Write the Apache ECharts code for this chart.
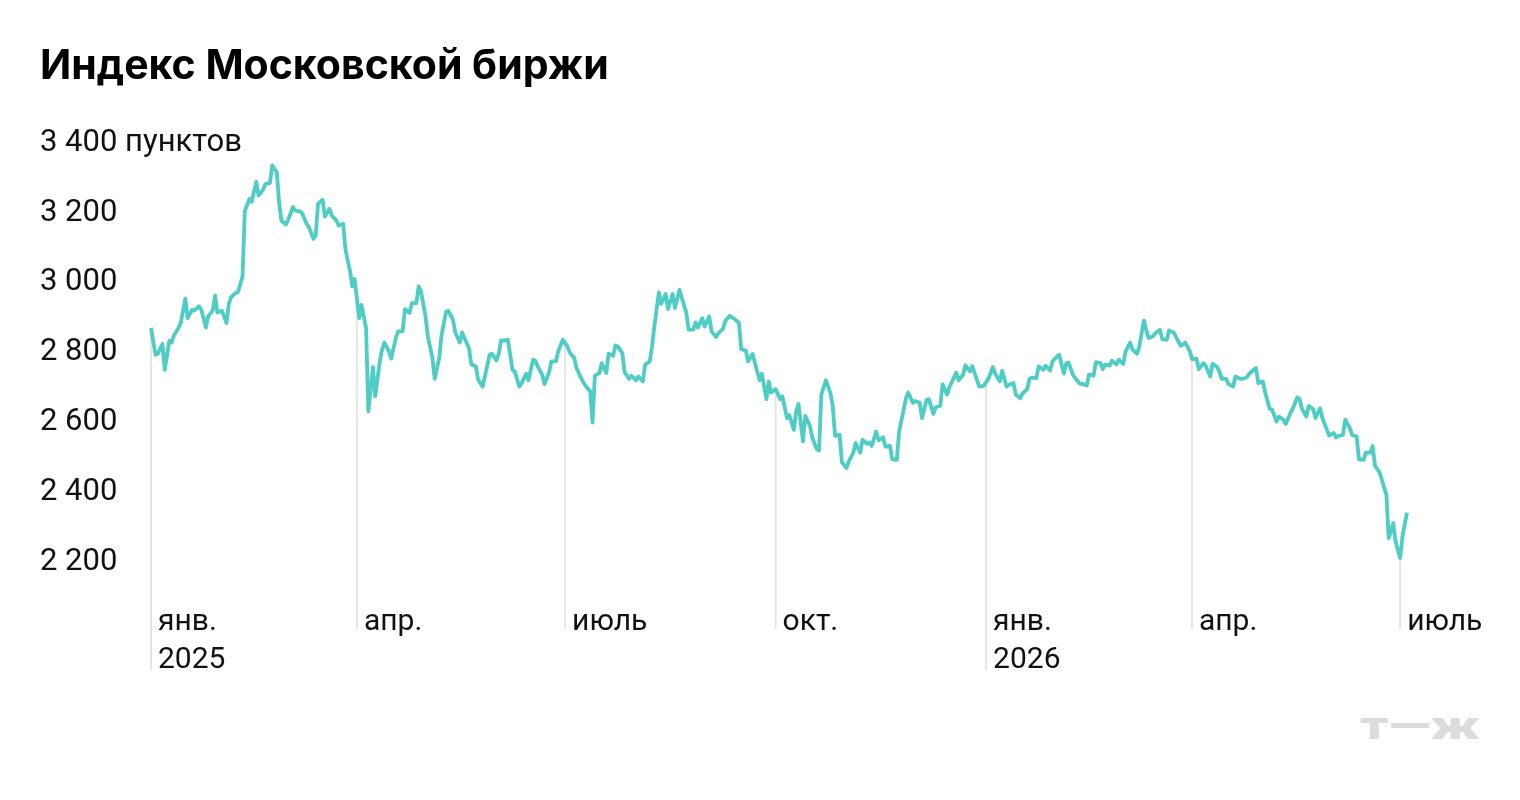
<!DOCTYPE html>
<html>
<head>
<meta charset="utf-8">
<title>Индекс Московской биржи</title>
<script src="https://cdn.jsdelivr.net/npm/echarts@6/dist/echarts.min.js"></script>
<style>
  html, body { margin: 0; padding: 0; background: #fff; }
  #chart { width: 1520px; height: 800px; }
</style>
</head>
<body>
<div id="chart"></div>
<script>
// торговые дни (примерно), значения индекса в пунктах
const dates = [
  '2025-01-01','2025-01-03','2025-01-04','2025-01-06','2025-01-07','2025-01-09','2025-01-10','2025-01-11','2025-01-13','2025-01-14',
  '2025-01-16','2025-01-17','2025-01-19','2025-01-20','2025-01-22','2025-01-23','2025-01-25','2025-01-26','2025-01-28','2025-01-29',
  '2025-01-30','2025-02-01','2025-02-03','2025-02-04','2025-02-05','2025-02-07','2025-02-08','2025-02-10','2025-02-11','2025-02-13',
  '2025-02-14','2025-02-16','2025-02-17','2025-02-19','2025-02-20','2025-02-22','2025-02-23','2025-02-25','2025-02-26','2025-02-27',
  '2025-03-01','2025-03-02','2025-03-04','2025-03-05','2025-03-07','2025-03-08','2025-03-10','2025-03-11','2025-03-13','2025-03-14',
  '2025-03-15','2025-03-17','2025-03-18','2025-03-20','2025-03-21','2025-03-23','2025-03-24','2025-03-26','2025-03-27','2025-03-29',
  '2025-03-30','2025-03-31','2025-04-02','2025-04-03','2025-04-05','2025-04-06','2025-04-08','2025-04-09','2025-04-11','2025-04-12',
  '2025-04-13','2025-04-15','2025-04-16','2025-04-18','2025-04-19','2025-04-21','2025-04-22','2025-04-24','2025-04-25','2025-04-27',
  '2025-04-28','2025-04-29','2025-05-01','2025-05-02','2025-05-04','2025-05-05','2025-05-07','2025-05-08','2025-05-10','2025-05-11',
  '2025-05-13','2025-05-14','2025-05-16','2025-05-17','2025-05-18','2025-05-20','2025-05-21','2025-05-23','2025-05-24','2025-05-26',
  '2025-05-27','2025-05-29','2025-05-30','2025-06-01','2025-06-02','2025-06-03','2025-06-05','2025-06-06','2025-06-08','2025-06-09',
  '2025-06-11','2025-06-12','2025-06-14','2025-06-15','2025-06-17','2025-06-18','2025-06-19','2025-06-21','2025-06-22','2025-06-24',
  '2025-06-25','2025-06-27','2025-06-28','2025-06-30','2025-07-02','2025-07-03','2025-07-05','2025-07-06','2025-07-08','2025-07-09',
  '2025-07-10','2025-07-12','2025-07-13','2025-07-14','2025-07-16','2025-07-17','2025-07-19','2025-07-20','2025-07-22','2025-07-23',
  '2025-07-24','2025-07-26','2025-07-27','2025-07-29','2025-07-30','2025-08-01','2025-08-02','2025-08-04','2025-08-05','2025-08-07',
  '2025-08-08','2025-08-09','2025-08-11','2025-08-12','2025-08-14','2025-08-15','2025-08-17','2025-08-18','2025-08-20','2025-08-21',
  '2025-08-23','2025-08-24','2025-08-26','2025-08-27','2025-08-28','2025-08-30','2025-08-31','2025-09-02','2025-09-03','2025-09-05',
  '2025-09-06','2025-09-08','2025-09-09','2025-09-11','2025-09-12','2025-09-13','2025-09-15','2025-09-16','2025-09-18','2025-09-19',
  '2025-09-21','2025-09-22','2025-09-24','2025-09-25','2025-09-27','2025-09-28','2025-09-29','2025-10-01','2025-10-03','2025-10-04',
  '2025-10-06','2025-10-07','2025-10-09','2025-10-10','2025-10-11','2025-10-13','2025-10-14','2025-10-16','2025-10-17','2025-10-19',
  '2025-10-20','2025-10-21','2025-10-23','2025-10-25','2025-10-26','2025-10-27','2025-10-29','2025-10-30','2025-11-01','2025-11-02',
  '2025-11-04','2025-11-05','2025-11-07','2025-11-08','2025-11-10','2025-11-11','2025-11-12','2025-11-14','2025-11-15','2025-11-17',
  '2025-11-18','2025-11-20','2025-11-21','2025-11-23','2025-11-24','2025-11-26','2025-11-27','2025-11-28','2025-11-30','2025-12-01',
  '2025-12-03','2025-12-04','2025-12-06','2025-12-07','2025-12-09','2025-12-10','2025-12-12','2025-12-13','2025-12-15','2025-12-16',
  '2025-12-17','2025-12-19','2025-12-20','2025-12-22','2025-12-23','2025-12-25','2025-12-26','2025-12-28','2025-12-29','2025-12-31',
  '2026-01-02','2026-01-04','2026-01-05','2026-01-07','2026-01-08','2026-01-10','2026-01-11','2026-01-13','2026-01-14','2026-01-16',
  '2026-01-17','2026-01-19','2026-01-20','2026-01-21','2026-01-23','2026-01-24','2026-01-26','2026-01-27','2026-01-29','2026-01-30',
  '2026-02-01','2026-02-02','2026-02-04','2026-02-05','2026-02-06','2026-02-08','2026-02-09','2026-02-11','2026-02-12','2026-02-14',
  '2026-02-15','2026-02-17','2026-02-18','2026-02-20','2026-02-21','2026-02-22','2026-02-24','2026-02-25','2026-02-27','2026-02-28',
  '2026-03-02','2026-03-03','2026-03-05','2026-03-06','2026-03-08','2026-03-09','2026-03-11','2026-03-12','2026-03-13','2026-03-15',
  '2026-03-16','2026-03-18','2026-03-19','2026-03-21','2026-03-22','2026-03-24','2026-03-25','2026-03-27','2026-03-28','2026-03-29',
  '2026-03-31','2026-04-01','2026-04-03','2026-04-04','2026-04-06','2026-04-07','2026-04-09','2026-04-10','2026-04-12','2026-04-13',
  '2026-04-14','2026-04-16','2026-04-17','2026-04-19','2026-04-20','2026-04-22','2026-04-23','2026-04-25','2026-04-26','2026-04-28',
  '2026-04-29','2026-04-30','2026-05-02','2026-05-03','2026-05-05','2026-05-06','2026-05-08','2026-05-09','2026-05-11','2026-05-12',
  '2026-05-14','2026-05-15','2026-05-17','2026-05-18','2026-05-19','2026-05-21','2026-05-22','2026-05-24','2026-05-25','2026-05-27',
  '2026-05-28','2026-05-30','2026-05-31','2026-06-02','2026-06-03','2026-06-04','2026-06-06','2026-06-07','2026-06-09','2026-06-10',
  '2026-06-12','2026-06-13','2026-06-15','2026-06-16','2026-06-18','2026-06-19','2026-06-20','2026-06-22','2026-06-23','2026-06-25',
  '2026-06-26','2026-06-28','2026-06-29','2026-07-01','2026-07-02','2026-07-04'
]
const values = [
  2862, 2785, 2788, 2816, 2742, 2825, 2820, 2840, 2862, 2876,
  2946, 2890, 2914, 2912, 2924, 2914, 2863, 2895, 2912, 2955,
  2906, 2911, 2876, 2930, 2950, 2962, 2964, 3009, 3196, 3231,
  3223, 3280, 3241, 3258, 3274, 3277, 3327, 3307, 3220, 3169,
  3158, 3172, 3208, 3198, 3196, 3191, 3160, 3151, 3117, 3126,
  3217, 3229, 3181, 3203, 3184, 3170, 3155, 3160, 3086, 3024,
  2981, 3002, 2890, 2928, 2862, 2623, 2750, 2666, 2766, 2800,
  2820, 2795, 2774, 2833, 2852, 2852, 2916, 2905, 2933, 2933,
  2981, 2967, 2895, 2838, 2776, 2716, 2776, 2842, 2909, 2911,
  2885, 2849, 2820, 2849, 2833, 2804, 2757, 2752, 2714, 2694,
  2725, 2785, 2788, 2769, 2788, 2826, 2826, 2828, 2742, 2737,
  2694, 2704, 2731, 2712, 2771, 2768, 2752, 2728, 2701, 2735,
  2766, 2766, 2795, 2828, 2809, 2792, 2776, 2747, 2718, 2706,
  2696, 2680, 2591, 2725, 2733, 2761, 2733, 2788, 2782, 2812,
  2809, 2790, 2735, 2716, 2725, 2712, 2723, 2709, 2757, 2766,
  2809, 2866, 2964, 2931, 2959, 2916, 2959, 2919, 2971, 2948,
  2905, 2857, 2857, 2878, 2863, 2890, 2866, 2895, 2852, 2836,
  2847, 2859, 2881, 2897, 2892, 2888, 2876, 2801, 2797, 2766,
  2787, 2761, 2712, 2731, 2658, 2709, 2677, 2687, 2658, 2666,
  2604, 2613, 2570, 2623, 2644, 2537, 2610, 2582, 2549, 2515,
  2511, 2671, 2712, 2675, 2637, 2553, 2556, 2477, 2461, 2480,
  2505, 2532, 2505, 2542, 2530, 2534, 2524, 2565, 2540, 2549,
  2522, 2524, 2486, 2484, 2565, 2628, 2661, 2677, 2648, 2653,
  2648, 2604, 2656, 2658, 2616, 2635, 2639, 2701, 2671, 2693,
  2706, 2734, 2712, 2728, 2755, 2737, 2752, 2714, 2694, 2696,
  2716, 2750, 2731, 2709, 2739, 2694, 2699, 2704, 2671, 2661,
  2675, 2687, 2716, 2720, 2718, 2752, 2742, 2754, 2740, 2766,
  2780, 2785, 2731, 2759, 2763, 2728, 2718, 2702, 2702, 2697,
  2728, 2725, 2764, 2761, 2744, 2757, 2754, 2768, 2757, 2771,
  2759, 2795, 2820, 2800, 2788, 2809, 2883, 2857, 2833, 2838,
  2847, 2857, 2830, 2828, 2855, 2849, 2836, 2811, 2814, 2820,
  2797, 2773, 2773, 2744, 2761, 2754, 2723, 2759, 2750, 2737,
  2716, 2716, 2701, 2694, 2723, 2716, 2716, 2721, 2731, 2742,
  2747, 2704, 2709, 2677, 2630, 2628, 2594, 2608, 2599, 2587,
  2618, 2630, 2663, 2659, 2632, 2608, 2639, 2630, 2604, 2632,
  2604, 2570, 2554, 2561, 2548, 2553, 2556, 2599, 2575, 2556,
  2551, 2486, 2484, 2505, 2505, 2524, 2468, 2448, 2427, 2384,
  2260, 2303, 2250, 2203, 2265, 2333
]

// подписи по оси X — начало каждого квартала
const quarterDates = ['2025-01-01', '2025-04-01', '2025-07-01', '2025-10-01', '2026-01-01', '2026-04-01', '2026-07-01']
const quarterLabels = ['янв.\n2025', 'апр.', 'июль', 'окт.', 'янв.\n2026', 'апр.', 'июль']

const yMin = 2000
const yMax = 3400
const yStep = 200

const lineColor = '#4ecdc4'
const font = 'Roboto, "Noto Sans", sans-serif'

// значение линии в нужную дату (между соседними точками)
function valueAt(day) {
  const t = +new Date(day)
  for (let i = 0; i < dates.length - 1; i++) {
    const a = +new Date(dates[i])
    const b = +new Date(dates[i + 1])
    if (t >= a && t <= b) {
      return values[i] + (values[i + 1] - values[i]) * (t - a) / (b - a)
    }
  }
  return values[values.length - 1]
}

function formatNumber(v) {
  return String(v).replace(/\B(?=(\d{3})+(?!\d))/g, ' ')
}

const chart = echarts.init(document.getElementById('chart'), null, { renderer: 'canvas' })

chart.setOption({
  animation: false,
  backgroundColor: '#fff',
  title: {
    text: 'Индекс Московской биржи',
    left: 40,
    top: 46,
    padding: 0,
    textStyle: {
      fontFamily: 'Inter, Roboto, sans-serif',
      fontSize: 41,
      fontWeight: 'bold',
      color: '#000'
    }
  },
  graphic: [{
    type: 'text',
    left: 1360,
    top: 710,
    scaleX: 1.45,
    style: {
      text: 'т—ж',
      font: '900 38px ' + font,
      fill: '#dcdcdc'
    }
  }],
  grid: {
    left: 151,
    right: 113,
    top: 140,
    bottom: 171
  },
  xAxis: {
    type: 'time',
    min: '2025-01-01',
    max: dates[dates.length - 1],
    axisLine: { show: false },
    axisTick: { show: false },
    axisLabel: { show: false },
    splitLine: { show: false }
  },
  yAxis: {
    type: 'value',
    min: yMin,
    max: yMax,
    interval: yStep,
    axisLine: { show: false },
    axisTick: { show: false },
    splitLine: { show: false },
    axisLabel: {
      margin: 111,
      align: 'left',
      fontFamily: font,
      fontSize: 31,
      color: '#111',
      rich: {
        t: { fontFamily: font, fontSize: 31, color: '#111', padding: [6, 0, 0, 0] }
      },
      formatter: function (value) {
        if (value === yMin) {
          return ''
        }
        if (value === yMax) {
          return '{t|' + formatNumber(value) + ' пунктов}'
        }
        return '{t|' + formatNumber(value) + '}'
      }
    }
  },
  series: [{
    type: 'custom',
    z: 1,
    clip: false,
    silent: true,
    data: quarterDates.map(d => [d, valueAt(d)]),
    renderItem: function (params, api) {
      const i = params.dataIndex
      const top = api.coord([api.value(0), api.value(1)])
      const base = api.coord([api.value(0), yMin])
      const withYear = quarterLabels[i].indexOf('\n') > -1
      return {
        type: 'group',
        children: [{
          type: 'line',
          shape: { x1: top[0], y1: top[1], x2: top[0], y2: base[1] + (withYear ? 41 : 0) },
          style: { stroke: '#e5e5e5', lineWidth: 2 }
        }, {
          type: 'text',
          x: top[0] + 7,
          y: base[1] - 26,
          style: {
            text: quarterLabels[i],
            font: '30px ' + font,
            fill: '#111',
            lineHeight: 38,
            verticalAlign: 'top'
          }
        }]
      }
    }
  }, {
    type: 'line',
    z: 2,
    data: dates.map((d, i) => [d, values[i]]),
    showSymbol: false,
    lineStyle: {
      color: lineColor,
      width: 3.8,
      join: 'round'
    }
  }]
})
</script>
</body>
</html>
